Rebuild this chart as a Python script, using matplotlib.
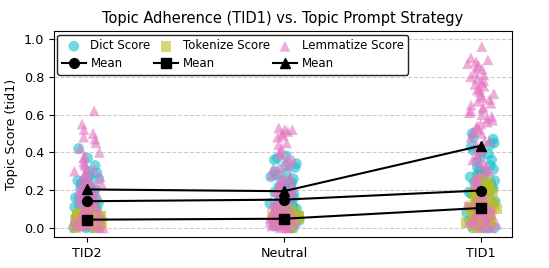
import numpy as np
import matplotlib
matplotlib.use("Agg")
import matplotlib.pyplot as plt

categories = ["TID2", "Neutral", "TID1"]

dict_tid2 = [0.00,0.00,0.01,0.02,0.03,0.04,0.05,0.05,0.06,0.07,0.08,0.09,0.10,0.10,0.11,0.12,0.13,0.14,0.15,0.16,
             0.17,0.18,0.19,0.20,0.21,0.22,0.23,0.24,0.25,0.26,0.27,0.29,0.30,0.33,0.37,0.42,0.00,0.01,0.02,0.03,
             0.02,0.04,0.06,0.08,0.09,0.11,0.12,0.13,0.14,0.15,0.16,0.17,0.18,0.19,0.21,0.23,0.25,0.28,0.05,0.10]
tok_tid2 = [0.00,0.00,0.01,0.01,0.02,0.02,0.02,0.03,0.03,0.03,0.04,0.04,0.04,0.04,0.05,0.05,0.05,0.05,0.06,0.06,
            0.06,0.06,0.07,0.07,0.07,0.08,0.08,0.09,0.03,0.04,
            0.01,0.02,0.03,0.04,0.05,0.06,0.07,0.08,0.03,0.04,0.05,0.06,0.02,0.05,0.04]
lem_tid2 = [0.00,0.01,0.02,0.03,0.05,0.06,0.08,0.09,0.10,0.11,0.12,0.13,0.14,0.15,0.16,0.17,0.18,0.19,0.20,0.21,
            0.22,0.23,0.24,0.25,0.26,0.28,0.29,0.30,0.31,0.33,0.35,0.37,0.40,0.45,0.48,0.50,0.55,0.62,0.02,0.04,
            0.00,0.01,0.03,
            0.01,0.03,0.05,0.07,0.09,0.11,0.13,0.15,0.17,0.19,0.21,0.23,0.25,0.27,0.30,0.34,0.38,0.42,0.47,0.52,
            0.04,0.06]

dict_neu = [0.00,0.00,0.01,0.02,0.03,0.04,0.05,0.06,0.07,0.08,0.09,0.10,0.11,0.12,0.12,0.13,0.14,0.15,0.15,0.16,
            0.17,0.18,0.19,0.20,0.21,0.22,0.23,0.24,0.25,0.27,0.28,0.30,0.32,0.34,0.36,0.38,0.01,0.02,0.04,0.06,
            0.01,0.03,0.05,0.07,0.09,0.11,0.13,0.14,0.16,0.18,0.20,0.22,0.24,0.26,0.29,0.33,0.37,0.02,0.06,0.10]
tok_neu = [0.00,0.01,0.01,0.02,0.02,0.03,0.03,0.03,0.04,0.04,0.04,0.04,0.05,0.05,0.05,0.05,0.05,0.06,0.06,0.06,
           0.06,0.07,0.07,0.07,0.08,0.08,0.09,0.10,0.02,0.04,
           0.01,0.02,0.03,0.04,0.05,0.06,0.07,0.08,0.09,0.03,0.05,0.06,0.04,0.05,0.07]
lem_neu = [0.00,0.01,0.02,0.03,0.04,0.05,0.06,0.07,0.08,0.09,0.10,0.11,0.12,0.13,0.14,0.15,0.16,0.17,0.18,0.19,
           0.20,0.21,0.22,0.23,0.24,0.25,0.27,0.29,0.31,0.33,0.35,0.37,0.39,0.42,0.45,0.48,0.50,0.51,0.52,0.53,
           0.00,0.01,0.02,0.03,0.05,0.08,0.04,0.06,
           0.00,0.02,0.04,0.06,0.08,0.10,0.12,0.14,0.16,0.18,0.20,0.22,0.24,0.26,0.28,0.32,0.36,0.40,0.44,0.49,
           0.52,0.03,0.01,0.05]

dict_tid1 = [0.00,0.00,0.01,0.02,0.03,0.05,0.06,0.08,0.09,0.10,0.11,0.12,0.13,0.14,0.15,0.16,0.17,0.18,0.19,0.20,
             0.21,0.22,0.23,0.24,0.25,0.26,0.27,0.28,0.29,0.30,0.31,0.33,0.35,0.37,0.39,0.41,0.43,0.45,0.47,0.50,
             0.00,0.01,0.02,0.04,
             0.00,0.02,0.04,0.06,0.08,0.10,0.12,0.14,0.16,0.18,0.20,0.22,0.24,0.26,0.28,0.30,0.32,0.36,0.40,0.44,
             0.48,0.03]
tok_tid1 = [0.00,0.01,0.02,0.03,0.04,0.05,0.05,0.06,0.06,0.07,0.07,0.08,0.08,0.09,0.09,0.10,0.10,0.10,0.11,0.11,
            0.12,0.12,0.13,0.13,0.14,0.14,0.15,0.16,0.17,0.18,0.20,0.22,0.24,0.26,0.02,0.04,
            0.01,0.03,0.05,0.06,0.07,0.08,0.09,0.10,0.11,0.12,0.13,0.15,0.17,0.19,0.21,0.25,0.04,0.08]
lem_tid1 = [0.00,0.02,0.04,0.06,0.08,0.10,0.12,0.14,0.16,0.18,0.20,0.22,0.24,0.26,0.28,0.30,0.32,0.34,0.36,0.38,
            0.40,0.42,0.44,0.46,0.48,0.50,0.52,0.53,0.55,0.57,0.58,0.60,0.62,0.63,0.65,0.67,0.68,0.70,0.72,0.74,
            0.76,0.78,0.80,0.82,0.84,0.86,0.88,0.90,0.96,0.01,0.03,0.05,0.07,0.09,
            0.00,0.03,0.06,0.10,0.14,0.18,0.22,0.26,0.30,0.34,0.38,0.42,0.46,0.51,0.54,0.56,0.59,0.61,0.64,0.66,
            0.69,0.71,0.73,0.75,0.77,0.79,0.81,0.85,0.87,0.89,0.02,0.05,0.08,0.12]

series = [
    ("Dict Score", [dict_tid2, dict_neu, dict_tid1], "#17becf", "o", 1),
    ("Tokenize Score", [tok_tid2, tok_neu, tok_tid1], "#bcbd22", "s", 2),
    ("Lemmatize Score", [lem_tid2, lem_neu, lem_tid1], "#e377c2", "^", 3),
]


def hash_frac(k):
    v = np.sin(k * 12.9898 + 78.233) * 43758.5453
    return v - np.floor(v)


fig = plt.figure(figsize=(5.49, 2.68), dpi=100)
ax = fig.add_axes([0.098, 0.116, 0.835, 0.768])

xs = np.arange(len(categories))
handles = []
for name, groups, color, marker, seed in series:
    sc = None
    for gi, vals in enumerate(groups):
        n = len(vals)
        idx = np.arange(n) + seed * 211 + gi * 97
        u1 = hash_frac(idx)
        u2 = hash_frac(idx + 1000.5)
        offs = (u1 + u2 - 1.0) * 0.085
        sc = ax.scatter(xs[gi] + offs, vals, s=60, color=color, alpha=0.6,
                        marker=marker, edgecolors="none", zorder=2,
                        label=name if gi == 0 else None)
    means = [np.mean(v) for v in groups]
    (ln,) = ax.plot(xs, means, color="black", marker=marker, markersize=7,
                    linewidth=1.5, label="Mean", zorder=4)
    handles.append((sc, ln))

ax.set_xlim(-0.17, 2.16)
ax.set_ylim(-0.048, 1.042)
ax.set_xticks(xs)
ax.set_xticklabels(categories)
ax.set_yticks([0.0, 0.2, 0.4, 0.6, 0.8, 1.0])
ax.yaxis.grid(True, linestyle="--", color="#cccccc", linewidth=0.8)
ax.set_axisbelow(True)
ax.set_ylabel("Topic Score (tid1)", fontsize=9.2)
ax.set_title("Topic Adherence (TID1) vs. Topic Prompt Strategy", fontsize=10.5)
ax.tick_params(labelsize=9.2)

leg_handles = []
leg_labels = []
for (sc, ln), (name, *_rest) in zip(handles, series):
    leg_handles += [sc, ln]
    leg_labels += [name, "Mean"]
leg = ax.legend(leg_handles, leg_labels, ncol=3, loc="upper left", fontsize=8.5,
                frameon=True, edgecolor="#222222", framealpha=1.0,
                borderpad=0.4, labelspacing=0.4, columnspacing=0.3,
                handlelength=2.0, handletextpad=0.4, borderaxespad=0.3)
fig.savefig("out.png", dpi=100)
